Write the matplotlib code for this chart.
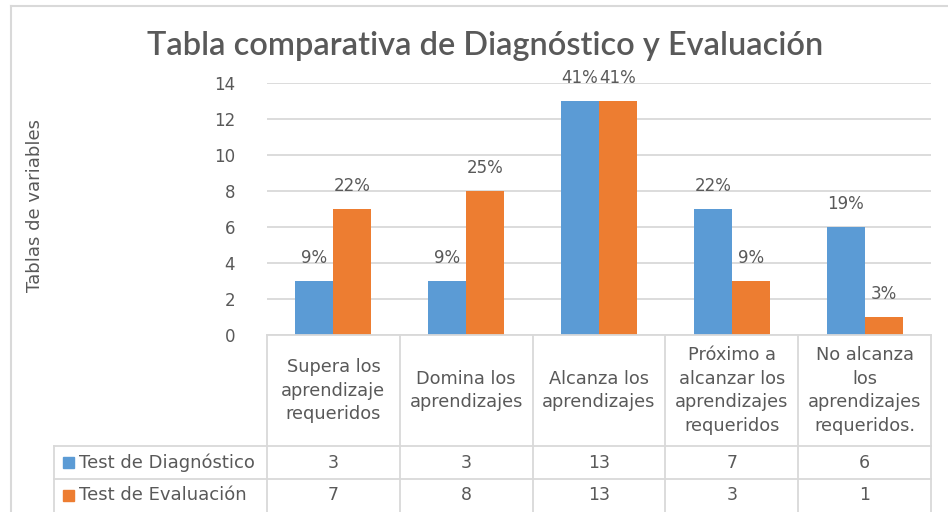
import matplotlib
matplotlib.use("Agg")
import matplotlib.pyplot as plt
from matplotlib.lines import Line2D
from matplotlib.patches import Rectangle
from matplotlib.transforms import blended_transform_factory

categories = [
    "Supera los\naprendizaje\nrequeridos",
    "Domina los\naprendizajes",
    "Alcanza los\naprendizajes",
    "Próximo a\nalcanzar los\naprendizajes\nrequeridos",
    "No alcanza\nlos\naprendizajes\nrequeridos.",
]
series_names = ["Test de Diagnóstico", "Test de Evaluación"]
diagnostico = [3, 3, 13, 7, 6]
evaluacion = [7, 8, 13, 3, 1]
yticks = [0, 2, 4, 6, 8, 10, 12, 14]
title = "Tabla comparativa de Diagnóstico y Evaluación"
ylabel = "Tablas de variables"

BLUE = "#5B9BD5"
ORANGE = "#ED7D31"
TXT = "#595959"
GRID = "#D9D9D9"

W, H = 948, 512
fig = plt.figure(figsize=(W / 100, H / 100), dpi=100)
plt.rcParams['font.family'] = ['DejaVu Sans']

def fx(px):
    return px / W

def fy(py):
    return 1 - py / H

ax_left, ax_right, ax_bottom, ax_top = 267, 931, 335, 83
ax = fig.add_axes([fx(ax_left), fy(ax_bottom), fx(ax_right - ax_left), (ax_bottom - ax_top) / H])
ax.set_xlim(-0.5, len(categories) - 0.5)
ax.set_ylim(0, 14)
ax.set_yticks(yticks)
ax.tick_params(axis='y', length=0, pad=23, labelsize=12, labelcolor=TXT)
ax.set_xticks([])
for s in ax.spines.values():
    s.set_visible(False)
ax.grid(axis='y', color=GRID, linewidth=1.3)
ax.set_axisbelow(True)

bw = 0.286
x = list(range(len(categories)))
series = [diagnostico, evaluacion]
colors = [BLUE, ORANGE]
for si, (vals, col) in enumerate(zip(series, colors)):
    total = sum(vals)
    offs = (si - 0.5) * bw
    ax.bar([xi + offs for xi in x], vals, width=bw, color=col, zorder=3)
    for xi, v in zip(x, vals):
        pct = round(v / total * 100)
        ax.annotate(f"{pct}%", (xi + offs, v), xytext=(0, 16.5), textcoords='offset points',
                    ha='center', va='center', fontsize=12, color=TXT, annotation_clip=False)

# title and y label
fig.text(fx(485), fy(46), title, ha='center', va='center', fontsize=23.4, color=TXT,
         family='Lato', fontweight='semibold')
fig.text(fx(35), fy(205), ylabel, ha='center', va='center', rotation=90, fontsize=13, color=TXT)

# outer frame
fig.add_artist(Line2D([fx(11), fx(11)], [fy(6), fy(512)], color=GRID, lw=1.5, transform=fig.transFigure))
fig.add_artist(Line2D([fx(11), fx(948)], [fy(6), fy(6)], color=GRID, lw=1.5, transform=fig.transFigure))

# data table
tr = blended_transform_factory(ax.transData, fig.transFigure)
hdr_bot, row1_bot, row2_bot = 446, 479, 512
tbl_left = 54
lw = 1.3
fig.add_artist(Line2D([fx(ax_left), fx(ax_right)], [fy(ax_bottom), fy(ax_bottom)], color=GRID, lw=lw, transform=fig.transFigure))
for yy in (hdr_bot, row1_bot):
    fig.add_artist(Line2D([fx(tbl_left), fx(ax_right)], [fy(yy), fy(yy)], color=GRID, lw=lw, transform=fig.transFigure))
fig.add_artist(Line2D([fx(tbl_left), fx(tbl_left)], [fy(hdr_bot), fy(row2_bot)], color=GRID, lw=lw, transform=fig.transFigure))
for i in range(len(categories) + 1):
    fig.add_artist(Line2D([i - 0.5, i - 0.5], [fy(ax_bottom), fy(row2_bot)], color=GRID, lw=lw, transform=tr))

for xi, cat in zip(x, categories):
    fig.text(xi, fy((ax_bottom + hdr_bot) / 2), cat, transform=tr, ha='center', va='center',
             fontsize=12.8, color=TXT, linespacing=1.42, multialignment='center')

row_centers = [(hdr_bot + row1_bot) / 2, (row1_bot + row2_bot) / 2]
for name, vals, col, rc in zip(series_names, series, colors, row_centers):
    fig.add_artist(Rectangle((fx(63), fy(rc + 5.5)), fx(11), 11 / H, color=col, transform=fig.transFigure))
    fig.text(fx(79), fy(rc), name, ha='left', va='center', fontsize=13, color=TXT)
    for xi, v in zip(x, vals):
        fig.text(xi, fy(rc), str(v), transform=tr, ha='center', va='center', fontsize=12.5, color=TXT)

fig.savefig("out.png", dpi=100)
